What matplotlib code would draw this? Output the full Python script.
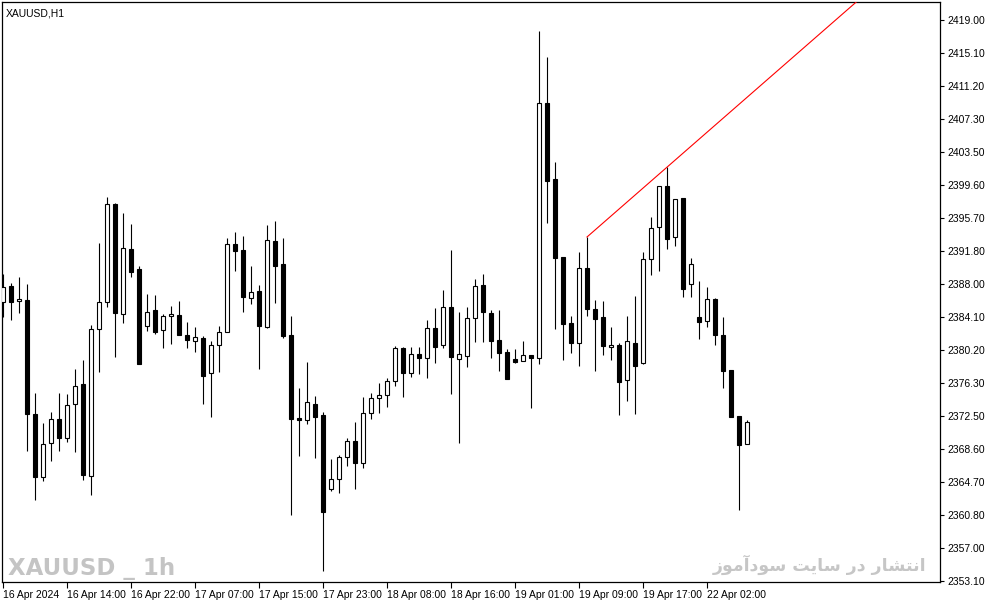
"""XAUUSD H1 candlestick chart, MetaTrader style."""

import matplotlib
matplotlib.use('Agg')
import matplotlib.pyplot as plt
import numpy as np

# OHLC per hourly bar, 16 Apr 2024 06:00 .. 22 Apr 2024 07:00
opens = [2385.9, 2387.8, 2386.0, 2386.1, 2372.7, 2365.3, 2369.3, 2372.1, 2369.9, 2373.9,
         2376.2, 2365.4, 2382.7, 2385.9, 2397.4, 2384.5, 2392.1, 2389.8, 2383.1, 2384.9,
         2382.6, 2384.2, 2384.3, 2382.0, 2381.3, 2381.6, 2377.5, 2380.8, 2382.4, 2392.7,
         2392.0, 2386.3, 2387.2, 2382.9, 2393.0, 2390.3, 2382.0, 2372.2, 2372.0, 2373.9,
         2372.6, 2363.9, 2365.1, 2367.7, 2369.5, 2367.0, 2372.8, 2374.6, 2374.9, 2376.6,
         2380.5, 2377.5, 2379.8, 2379.3, 2382.8, 2380.8, 2385.3, 2379.2, 2379.5, 2384.0,
         2387.9, 2384.6, 2381.4, 2380.0, 2379.2, 2378.9, 2379.6, 2379.3, 2409.2, 2400.3,
         2391.2, 2383.4, 2381.1, 2389.9, 2385.0, 2384.1, 2380.6, 2380.8, 2376.7, 2381.1,
         2378.7, 2390.9, 2394.7, 2399.5, 2393.5, 2398.1, 2388.0, 2384.1, 2383.6, 2386.2,
         2382.0, 2377.9, 2372.5, 2369.2]
highs = [2389.2, 2388.1, 2388.8, 2388.0, 2375.2, 2371.7, 2373.0, 2375.2, 2375.1, 2378.0,
         2379.1, 2383.2, 2392.8, 2398.2, 2397.5, 2396.3, 2395.0, 2390.1, 2386.8, 2386.7,
         2384.5, 2385.4, 2386.0, 2383.5, 2382.9, 2381.9, 2381.3, 2383.1, 2393.4, 2394.1,
         2393.6, 2390.1, 2387.9, 2394.9, 2395.4, 2393.4, 2384.2, 2375.8, 2378.8, 2374.8,
         2373.0, 2367.4, 2367.9, 2369.9, 2371.8, 2374.7, 2375.2, 2376.4, 2376.9, 2380.7,
         2380.6, 2380.6, 2380.6, 2383.8, 2385.2, 2387.3, 2392.0, 2384.7, 2385.3, 2388.6,
         2389.2, 2384.9, 2384.9, 2380.4, 2380.4, 2381.3, 2379.6, 2417.7, 2414.6, 2402.3,
         2391.2, 2384.2, 2391.7, 2393.5, 2386.1, 2386.0, 2382.9, 2381.1, 2384.2, 2386.6,
         2391.7, 2395.9, 2399.5, 2401.7, 2398.0, 2398.1, 2391.0, 2388.3, 2387.6, 2386.3,
         2384.1, 2377.9, 2372.5, 2372.0]
lows = [2384.1, 2383.8, 2384.6, 2368.4, 2362.6, 2364.8, 2367.2, 2368.4, 2369.4, 2368.3,
        2365.0, 2363.2, 2377.7, 2385.3, 2379.4, 2383.4, 2388.8, 2378.6, 2382.5, 2382.1,
        2380.5, 2380.9, 2382.0, 2380.5, 2380.0, 2373.9, 2372.4, 2377.7, 2382.4, 2389.5,
        2384.7, 2385.6, 2378.0, 2382.8, 2385.8, 2381.6, 2360.9, 2367.8, 2371.5, 2367.5,
        2354.3, 2363.7, 2363.4, 2366.6, 2363.9, 2366.4, 2372.1, 2372.8, 2373.5, 2376.0,
        2374.7, 2377.1, 2377.4, 2376.9, 2378.7, 2380.5, 2375.1, 2369.3, 2378.2, 2381.2,
        2381.2, 2379.3, 2377.8, 2376.8, 2378.7, 2378.9, 2373.4, 2378.6, 2395.1, 2382.7,
        2379.1, 2379.9, 2378.4, 2384.2, 2377.8, 2379.6, 2379.1, 2372.6, 2374.2, 2372.7,
        2378.6, 2389.0, 2389.5, 2392.1, 2392.5, 2386.5, 2386.5, 2381.5, 2382.9, 2380.8,
        2375.8, 2372.4, 2361.4, 2369.2]
closes = [2387.6, 2385.9, 2386.2, 2372.7, 2365.3, 2369.2, 2372.1, 2369.9, 2373.8, 2376.0,
          2365.6, 2382.7, 2385.9, 2397.4, 2384.6, 2392.2, 2389.4, 2378.6, 2384.7, 2382.4,
          2384.2, 2384.5, 2382.0, 2381.4, 2381.8, 2377.2, 2380.8, 2382.4, 2392.7, 2391.9,
          2386.5, 2387.0, 2383.1, 2393.2, 2390.1, 2381.9, 2372.1, 2372.0, 2374.1, 2372.4,
          2361.2, 2365.1, 2367.7, 2369.5, 2367.0, 2372.8, 2374.6, 2374.9, 2376.6, 2380.5,
          2377.5, 2379.8, 2379.3, 2382.8, 2380.6, 2385.3, 2379.4, 2379.8, 2384.0, 2387.8,
          2384.7, 2381.3, 2379.9, 2376.8, 2378.8, 2379.6, 2379.3, 2409.2, 2400.1, 2391.0,
          2383.3, 2381.1, 2389.9, 2385.0, 2383.9, 2380.7, 2380.8, 2376.5, 2381.3, 2378.4,
          2390.9, 2394.6, 2399.5, 2393.3, 2398.0, 2387.4, 2390.3, 2383.5, 2386.2, 2382.0,
          2377.8, 2372.4, 2369.1, 2371.8]

# time axis labels (bar index -> label)
time_tick_bars = [0, 8, 16, 24, 32, 40, 48, 56, 64, 72, 80, 88]
time_tick_labels = ['16 Apr 2024', '16 Apr 14:00', '16 Apr 22:00', '17 Apr 07:00',
                    '17 Apr 15:00', '17 Apr 23:00', '18 Apr 08:00', '18 Apr 16:00',
                    '19 Apr 01:00', '19 Apr 09:00', '19 Apr 17:00', '22 Apr 02:00']

price_tick_labels = ['2419.00', '2415.10', '2411.20', '2407.30', '2403.50', '2399.60',
                     '2395.70', '2391.80', '2388.00', '2384.10', '2380.20', '2376.30',
                     '2372.50', '2368.60', '2364.70', '2360.80', '2357.00', '2353.10']

# trendline anchored on two swing highs (bar indices)
trend_bars = [73, 83]

# Persian watermark, shaped by hand (matplotlib has no Arabic shaping)
FORMS = {
    'ا': ('\uFE8D', '\uFE8E', None, None),
    'آ': ('\uFE81', '\uFE82', None, None),
    'ن': ('\uFEE5', '\uFEE6', '\uFEE7', '\uFEE8'),
    'ت': ('\uFE95', '\uFE96', '\uFE97', '\uFE98'),
    'ش': ('\uFEB5', '\uFEB6', '\uFEB7', '\uFEB8'),
    'ر': ('\uFEAD', '\uFEAE', None, None),
    'د': ('\uFEA9', '\uFEAA', None, None),
    'س': ('\uFEB1', '\uFEB2', '\uFEB3', '\uFEB4'),
    'ی': ('\uFBFC', '\uFBFD', '\uFBFE', '\uFBFF'),
    'و': ('\uFEED', '\uFEEE', None, None),
    'م': ('\uFEE1', '\uFEE2', '\uFEE3', '\uFEE4'),
    'ز': ('\uFEAF', '\uFEB0', None, None),
}


def shape_rtl(text):
    out = []
    for i, ch in enumerate(text):
        if ch not in FORMS:
            out.append(ch)
            continue
        prev = text[i - 1] if i > 0 else ' '
        nxt = text[i + 1] if i + 1 < len(text) else ' '
        iso, fin, ini, med = FORMS[ch]
        join_prev = prev in FORMS and FORMS[prev][2] is not None
        join_next = ini is not None and nxt in FORMS
        if join_prev and join_next:
            out.append(med)
        elif join_prev:
            out.append(fin)
        elif join_next:
            out.append(ini)
        else:
            out.append(iso)
    return ''.join(reversed(out))


o = np.array(opens)
h = np.array(highs)
l = np.array(lows)
c = np.array(closes)
idx = np.arange(len(o))
up = c >= o

fig = plt.figure(figsize=(9.87, 6.05), dpi=100)
ax = fig.add_axes([2 / 987, 23 / 605, 938 / 987, 580 / 605])

# wicks, then bodies on top
ax.vlines(idx, l, h, color='black', linewidth=0.8, zorder=2)
ax.bar(idx[up], (c - o)[up], bottom=o[up], width=0.55,
       facecolor='white', edgecolor='black', linewidth=0.8, zorder=3)
ax.bar(idx[~up], (c - o)[~up], bottom=o[~up], width=0.55,
       facecolor='black', edgecolor='black', linewidth=0.8, zorder=3)

# trendline through two highs, extended to the right
x0, x1 = trend_bars
slope = (h[x1] - h[x0]) / (x1 - x0)
tx = np.array([x0, 120])
ax.plot(tx, h[x0] + slope * (tx - x0), color='red', linewidth=0.8, zorder=4)

ax.set_xlim(-0.125, 117.125)
ax.set_ylim(2352.98, 2421.1)

# axes styling
for sp in ax.spines.values():
    sp.set_linewidth(0.9)
    sp.set_color('black')

ax.yaxis.tick_right()
ax.set_yticks([float(v) for v in price_tick_labels])
ax.set_yticklabels(price_tick_labels, fontsize=7.5, family='Liberation Sans')
ax.tick_params(axis='y', direction='out', length=3, width=0.8, pad=2)

ax.set_xticks(time_tick_bars)
ax.set_xticklabels(time_tick_labels, fontsize=7.5, family='Liberation Sans', ha='left')
ax.tick_params(axis='x', direction='out', length=4, width=0.8, pad=2)

ax.text(0.004, 0.988, 'XAUUSD,H1', transform=ax.transAxes, fontsize=7.5,
        family='Liberation Sans', ha='left', va='top')

# watermarks
ax.text(0.006, 0.012, 'XAUUSD _ 1h', transform=ax.transAxes, fontsize=16.5,
        family='DejaVu Sans Condensed', fontweight='bold', color='#c4c4c4',
        ha='left', va='baseline')
ax.text(0.986, 0.019, shape_rtl('انتشار در سایت سودآموز'), transform=ax.transAxes,
        fontsize=12.5, family='DejaVu Sans', fontweight='bold', color='#c6c6c6',
        ha='right', va='baseline')

fig.savefig('out.png', dpi=100)
plt.close(fig)
